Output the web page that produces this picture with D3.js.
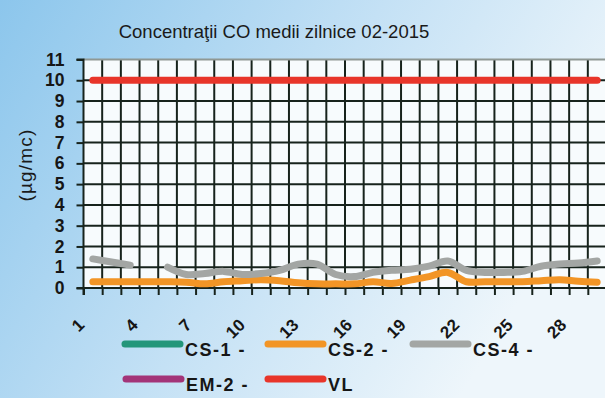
<!DOCTYPE html>
<html><head><meta charset="utf-8">
<script src="https://cdn.jsdelivr.net/npm/d3@7"></script>
<style>body{margin:0;}svg{display:block;}</style>
</head><body>
<script>
const days = d3.range(1, 29);
const tickLabels = [1, 4, 7, 10, 13, 16, 19, 22, 25, 28];
const yTicks = d3.range(0, 12);
const cs1 = days.map(() => null);
const cs2 = [0.3,0.3,0.3,0.3,0.3,0.28,0.2,0.3,0.35,0.4,0.35,0.25,0.2,0.2,0.2,0.3,0.22,0.38,0.55,0.75,0.3,0.3,0.3,0.3,0.35,0.4,0.32,0.28];
const cs4 = [1.4,1.25,1.1,null,1.0,0.65,0.7,0.8,0.65,0.7,0.85,1.15,1.15,0.65,0.55,0.75,0.85,0.9,1.05,1.3,0.85,0.75,0.75,0.8,1.05,1.15,1.2,1.3];
const em2 = days.map(() => null);
const vl = days.map(() => 10);
const seriesNames = ["CS-1 -", "CS-2 -", "CS-4 -", "EM-2 -", "VL"];
const seriesColors = ["#23967a", "#f29526", "#a3a6a4", "#a33478", "#e8352a"];
const seriesData = [cs1, cs2, cs4, em2, vl];

const W = 605, H = 398;
const svg = d3.select("body").append("svg").attr("width", W).attr("height", H);
const defs = svg.append("defs");
const grad = defs.append("linearGradient").attr("id","bg").attr("x1","0").attr("y1","0").attr("x2","1").attr("y2","0.4");
grad.append("stop").attr("offset","0").attr("stop-color","#8cc6ec");
grad.append("stop").attr("offset","0.55").attr("stop-color","#c4e1f5");
grad.append("stop").attr("offset","1").attr("stop-color","#eef6fb");
svg.append("rect").attr("width", W).attr("height", H).attr("fill", "url(#bg)");

const x = d3.scaleBand().domain(days).range([83.5, 606.5]);
const xl = d3.scaleLinear().domain([0, 28]).range([83.5, 606.5]);
const y = d3.scaleLinear().domain([0, 11]).range([288, 59.5]);
const xLab = d3.scalePoint().domain(days).range([85, 567]);

// plot area
svg.append("rect").attr("x", x.range()[0]).attr("y", y(11))
  .attr("width", x.range()[1] - x.range()[0]).attr("height", y(0) - y(11))
  .attr("fill", "#f7fbfd");

// grid
const grid = svg.append("g");
grid.selectAll("line.v").data(d3.range(1, 28)).join("line")
  .attr("x1", d => xl(d)).attr("x2", d => xl(d))
  .attr("y1", y(11)).attr("y2", y(0))
  .attr("stroke", "#17231c").attr("stroke-width", 2);
grid.selectAll("line.h").data(yTicks.filter(d => d > 0)).join("line")
  .attr("x1", x.range()[0]).attr("x2", x.range()[1])
  .attr("y1", d => y(d)).attr("y2", d => y(d))
  .attr("stroke", d => d === 11 ? "#8f9894" : "#17231c").attr("stroke-width", 2);

// y axis
const yAxis = svg.append("g").attr("transform", `translate(${x.range()[0]},0)`)
  .call(d3.axisLeft(y).tickValues(yTicks).tickSize(7).tickPadding(12).tickFormat(d3.format("d")));
yAxis.select(".domain").attr("stroke", "#17231c").attr("stroke-width", 2).attr("d", `M-7,${y(11)}H0V${y(0)+7}`);
yAxis.selectAll(".tick line").attr("stroke", "#17231c").attr("stroke-width", 2);
yAxis.selectAll(".tick text").attr("font-family", "Liberation Sans, Arial, sans-serif")
  .attr("font-size", 17.5).attr("font-weight", "bold").attr("fill", "#161616");

// x axis
const xAxis = svg.append("g").attr("transform", `translate(0,${y(0)})`)
  .call(d3.axisBottom(xl).tickValues(d3.range(0, 28)).tickSize(7).tickFormat(""));
xAxis.select(".domain").attr("stroke", "#17231c").attr("stroke-width", 2).attr("d", `M${x.range()[0]-7},0H${W}`);
xAxis.selectAll(".tick line").attr("stroke", "#17231c").attr("stroke-width", 2);

// x labels
const xLabAxis = svg.append("g").attr("transform", "translate(0,326)")
  .call(d3.axisBottom(xLab).tickValues(tickLabels).tickSize(0).tickPadding(0));
xLabAxis.select(".domain").remove();
xLabAxis.selectAll(".tick text")
  .attr("font-family", "Liberation Sans, Arial, sans-serif").attr("font-size", 17)
  .attr("font-weight", "bold").attr("fill", "#161616")
  .attr("text-anchor", "end").attr("dy", 0).attr("y", 0)
  .attr("transform", "rotate(-45)");

// lines
const line = d3.line().defined(d => d != null)
  .x((d, i) => x(days[i]) + x.bandwidth() / 2).y(d => y(d))
  .curve(d3.curveCatmullRom.alpha(0.5));
const lines = svg.append("g");
seriesData.forEach((s, k) => {
  lines.append("path").datum(s).attr("d", line)
    .attr("fill", "none").attr("stroke", seriesColors[k]).attr("stroke-width", 7)
    .attr("stroke-linecap", "round").attr("stroke-linejoin", "round");
});

// title
svg.append("text").attr("x", 274).attr("y", 38).attr("text-anchor", "middle")
  .attr("font-family", "Liberation Sans, Arial, sans-serif").attr("font-size", 18.5)
  .attr("fill", "#1a1a1a").text("Concentraţii CO medii zilnice 02-2015");

// y title
svg.append("text").attr("transform", "translate(32,165) rotate(-90)").attr("text-anchor", "middle")
  .attr("font-family", "Liberation Sans, Arial, sans-serif").attr("font-size", 19)
  .attr("letter-spacing", 1.2).attr("fill", "#1a1a1a").text("(µg/mc)");

// legend
const legPos = [[122, 344], [265, 344], [410, 344], [123, 379], [265, 379]];
const leg = svg.append("g");
seriesNames.forEach((n, k) => {
  const [lx, ly] = legPos[k];
  leg.append("line").attr("x1", lx + 3).attr("x2", lx + 58).attr("y1", ly).attr("y2", ly)
    .attr("stroke", seriesColors[k]).attr("stroke-width", 7).attr("stroke-linecap", "round");
  leg.append("text").attr("x", lx + 63).attr("y", ly + 12)
    .attr("font-family", "Liberation Sans, Arial, sans-serif").attr("font-size", 18)
    .attr("font-weight", "bold").attr("letter-spacing", 1.5).attr("fill", "#161616")
    .attr("xml:space", "preserve").text(n);
});
</script>
</body></html>
